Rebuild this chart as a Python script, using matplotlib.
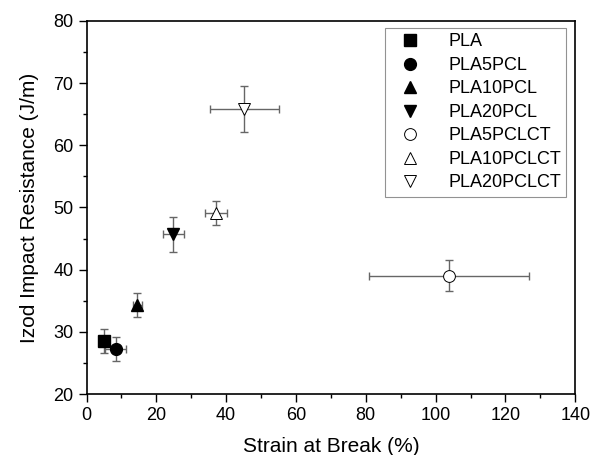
import matplotlib
matplotlib.use('Agg')
import matplotlib.pyplot as plt
from matplotlib.ticker import MultipleLocator

plt.rcParams['font.family'] = ['Liberation Sans', 'DejaVu Sans']

names = ['PLA', 'PLA5PCL', 'PLA10PCL', 'PLA20PCL', 'PLA5PCLCT', 'PLA10PCLCT', 'PLA20PCLCT']
strain = [5.0, 8.3, 14.5, 24.9, 103.8, 37.0, 45.2]
strain_err = [1.2, 3.0, 1.3, 3.1, 23.0, 3.2, 9.9]
impact = [28.5, 27.2, 34.3, 45.7, 39.0, 49.1, 65.8]
impact_err = [1.9, 1.9, 1.9, 2.8, 2.5, 1.9, 3.7]
markers = ['s', 'o', '^', 'v', 'o', '^', 'v']
filled = [True, True, True, True, False, False, False]

fig = plt.figure(figsize=(5.93, 4.55), dpi=100)
ax = fig.add_axes([0.146, 0.134, 0.824, 0.820])

for i in range(len(names)):
    ax.errorbar(strain[i], impact[i], xerr=strain_err[i], yerr=impact_err[i],
                fmt='none', ecolor='#666666', elinewidth=1, capsize=3, capthick=1, zorder=2)
    ax.plot(strain[i], impact[i], linestyle='none', marker=markers[i], markersize=8.5,
            markerfacecolor='black' if filled[i] else 'white',
            markeredgecolor='black', markeredgewidth=1 if filled[i] else 0.7,
            label=names[i], zorder=3)

ax.set_xlim(0, 140)
ax.set_ylim(20, 80)
ax.xaxis.set_major_locator(MultipleLocator(20))
ax.xaxis.set_minor_locator(MultipleLocator(10))
ax.yaxis.set_major_locator(MultipleLocator(10))
ax.yaxis.set_minor_locator(MultipleLocator(5))
ax.tick_params(which='major', direction='out', length=6, width=1, labelsize=13)
ax.tick_params(which='minor', direction='out', length=3, width=1)
for s in ax.spines.values():
    s.set_linewidth(1.2)

ax.set_xlabel('Strain at Break (%)', fontsize=15, labelpad=9)
ax.set_ylabel('Izod Impact Resistance (J/m)', fontsize=15, labelpad=10)

leg = ax.legend(loc='upper right', fontsize=13, frameon=True, fancybox=False,
                edgecolor='#777777', handletextpad=1.0, borderpad=0.3,
                labelspacing=0.36, handlelength=2.2, borderaxespad=0,
                bbox_to_anchor=(0.982, 0.981))
leg.get_frame().set_linewidth(0.8)

fig.savefig('out.png', dpi=100)
